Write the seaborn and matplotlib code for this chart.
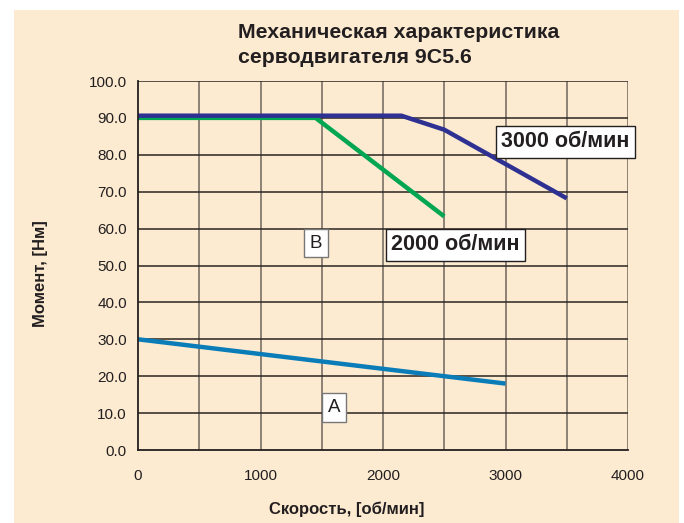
import pandas as pd
import seaborn as sns
import matplotlib.pyplot as plt
from matplotlib.patches import Rectangle
from matplotlib.ticker import MultipleLocator, FixedLocator, FuncFormatter

# Данные
speed_3000 = [0, 2150, 2500, 3500]
torque_3000 = [90.6, 90.6, 86.8, 68.2]

speed_2000 = [0, 1450, 2500]
torque_2000 = [90.0, 90.0, 63.3]

speed_a = [0, 3000]
torque_a = [30.0, 18.0]

x_ticks = [0, 1000, 2000, 3000, 4000]
y_ticks = [0, 10, 20, 30, 40, 50, 60, 70, 80, 90, 100]

title = "Механическая характеристика\nсерводвигателя 9С5.6"
x_label = "Скорость, [об/мин]"
y_label = "Момент, [Нм]"

CREAM = '#FDEBD1'
TXT = '#231F20'
W, H = 684, 523


def make_df():
    parts = []
    for name, xs, ys in [('3000', speed_3000, torque_3000),
                         ('2000', speed_2000, torque_2000),
                         ('A', speed_a, torque_a)]:
        parts.append(pd.DataFrame({'speed': xs, 'torque': ys, 'curve': name}))
    return pd.concat(parts, ignore_index=True)


def create_plot(output_path='out.png'):
    sns.set_theme(style="white")
    plt.rcParams['font.family'] = ['Liberation Sans', 'DejaVu Sans']
    plt.rcParams['text.color'] = TXT

    df = make_df()

    fig = plt.figure(figsize=(W / 100, H / 100), dpi=100)
    # кремовая подложка
    fig.patches.append(Rectangle((14 / W, 0), (679 - 14) / W, 1 - 10 / H,
                                 transform=fig.transFigure, facecolor=CREAM,
                                 edgecolor='none', zorder=-10))
    ax = fig.add_axes([138 / W, 1 - 450 / H, (628 - 138) / W, (450 - 81) / H])
    ax.set_zorder(1)
    ax.set_facecolor(CREAM)

    # Сетка
    for x in range(500, 4001, 500):
        ax.axvline(x, color='#857A70', lw=1.3, zorder=1)
    for y in y_ticks[1:]:
        ax.axhline(y, color='#2A2522', lw=1.1, zorder=1)

    palette = {'3000': '#2E3192', '2000': '#00A651', 'A': '#0A7DB8'}
    for name in ['2000', '3000', 'A']:
        sub = df[df['curve'] == name]
        sns.lineplot(data=sub, x='speed', y='torque', color=palette[name],
                     lw=3.2, sort=False, ax=ax, zorder=3 if name != '2000' else 2,
                     solid_capstyle='butt')

    ax.set_xlim(0, 4000)
    ax.set_ylim(0, 100)
    ax.xaxis.set_major_locator(FixedLocator(x_ticks))
    ax.xaxis.set_minor_locator(MultipleLocator(500))
    ax.yaxis.set_major_locator(FixedLocator(y_ticks))
    ax.yaxis.set_major_formatter(FuncFormatter(lambda v, p: f"{v:.1f}"))

    for s in ['top', 'right']:
        ax.spines[s].set_visible(False)
    for s in ['left', 'bottom']:
        ax.spines[s].set_color(TXT)
        ax.spines[s].set_linewidth(1.3)
        ax.spines[s].set_zorder(4)

    ax.tick_params(axis='both', which='both', direction='out', color=TXT,
                   width=1.1, labelsize=11, labelcolor=TXT)
    ax.tick_params(axis='y', length=5, pad=3)
    ax.tick_params(axis='x', which='both', length=6, pad=8)
    ax.tick_params(axis='x', which='minor', labelbottom=False)
    ax.set_xlabel('')
    ax.set_ylabel('')

    fig.text(347 / W, 1 - 509 / H, x_label, fontsize=12, fontweight='bold',
             ha='center', va='center', color=TXT)
    fig.text(40 / W, 1 - 274 / H, y_label, fontsize=12, fontweight='bold',
             ha='center', va='center', rotation=90, color=TXT)

    fig.text(238 / W, 1 - 63 / H, title, fontsize=15.3, fontweight='bold',
             ha='left', va='baseline', linespacing=1.4, color=TXT)

    # Подписи кривых и областей
    big_box = dict(boxstyle='square,pad=0.25', facecolor='white',
                   edgecolor=TXT, lw=1.0)
    small_box = dict(boxstyle='square,pad=0.3', facecolor='white',
                     edgecolor='#777777', lw=1.0)
    ax.text(3490, 83.5, "3000 об/мин", fontsize=15.5, fontweight='bold',
            ha='center', va='center', bbox=big_box, zorder=5, clip_on=False)
    ax.text(2590, 55.6, "2000 об/мин", fontsize=15.5, fontweight='bold',
            ha='center', va='center', bbox=big_box, zorder=5)
    ax.text(1450, 56.0, "В", fontsize=13.5, ha='center', va='center',
            bbox=small_box, zorder=5)
    ax.text(1600, 11.5, "А", fontsize=13.5, ha='center', va='center',
            bbox=small_box, zorder=5)

    plt.savefig(output_path, dpi=100, facecolor='white')
    plt.close()


if __name__ == "__main__":
    create_plot()
